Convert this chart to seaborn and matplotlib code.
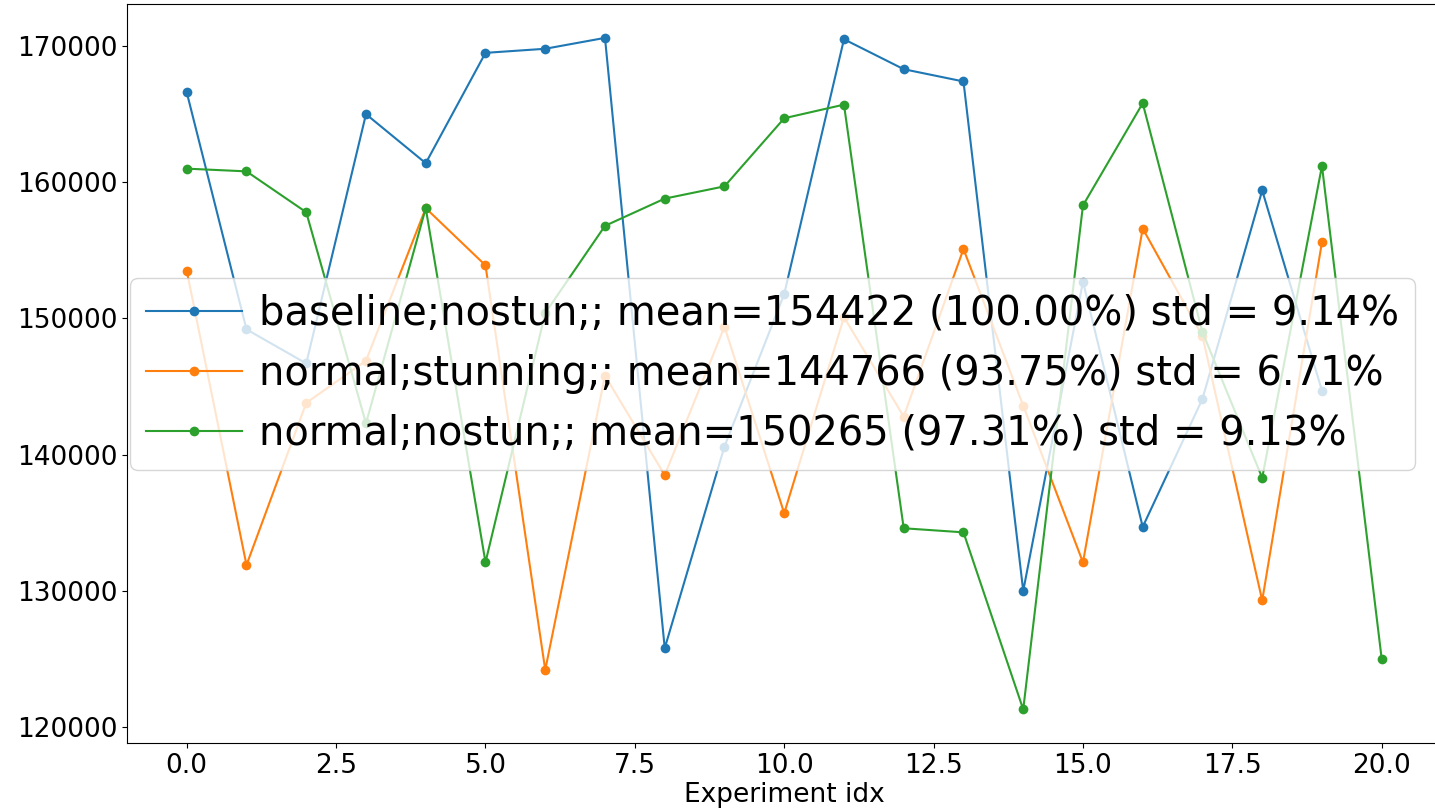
import pandas as pd
import seaborn as sns
import matplotlib
matplotlib.use("Agg")
import matplotlib.pyplot as plt

# Values
baseline_nostun = [166600, 149200, 146700, 165000, 161400, 169500, 169800, 170600, 125800, 140600,
                   151800, 170500, 168300, 167400, 130000, 152700, 134700, 144100, 159400, 144700]
normal_stunning = [153500, 131900, 143800, 146900, 158100, 153900, 124200, 145800, 138500, 149400,
                   135700, 150100, 142800, 155100, 143600, 132100, 156600, 148700, 129300, 155600]
normal_nostun = [161000, 160800, 157800, 142300, 158100, 132100, 150400, 156800, 158800, 159700,
                 164700, 165700, 134600, 134300, 121300, 158300, 165800, 149000, 138300, 161200, 125000]

labels = [
    "baseline;nostun;; mean=154422 (100.00%) std = 9.14%",
    "normal;stunning;; mean=144766 (93.75%) std = 6.71%",
    "normal;nostun;; mean=150265 (97.31%) std = 9.13%",
]
colors = ["#1f77b4", "#ff7f0e", "#2ca02c"]

fig = plt.figure(figsize=(14.35, 8.1), dpi=100)
ax = fig.add_axes([0.0885, 0.0827, 0.916, 0.912])

for values, label, color in zip([baseline_nostun, normal_stunning, normal_nostun], labels, colors):
    df = pd.DataFrame({"idx": range(len(values)), "value": values})
    sns.lineplot(data=df, x="idx", y="value", ax=ax, color=color, marker="o",
                 markersize=7, markeredgewidth=0, linewidth=1.5, label=label)

ax.set_xlabel("Experiment idx", fontsize=19)
ax.set_ylabel("")
ax.set_xticks([0, 2.5, 5, 7.5, 10, 12.5, 15, 17.5, 20])
ax.set_xticklabels(["0.0", "2.5", "5.0", "7.5", "10.0", "12.5", "15.0", "17.5", "20.0"])
ax.tick_params(labelsize=19)
ax.xaxis.labelpad = 2

handles, lbls = ax.get_legend_handles_labels()
ax.legend(handles, lbls, loc="center", bbox_to_anchor=(0.491, 0.5), fontsize=28.8,
          handlelength=2.4, handletextpad=0.42)

fig.savefig("out.png", dpi=100)
